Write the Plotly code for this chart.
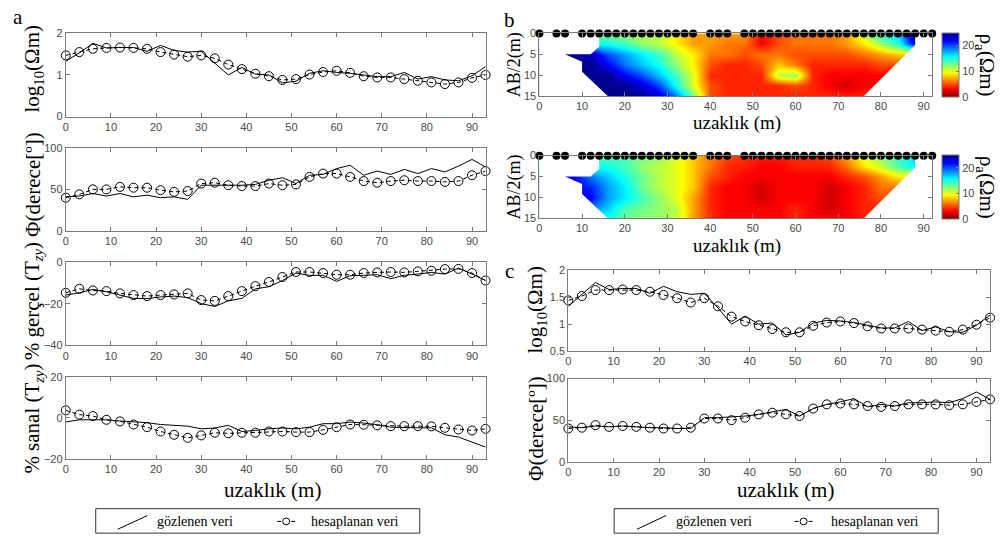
import plotly.graph_objects as go

W, H = 1001, 545

# ---------------- data ----------------
DIST = [0, 3, 6, 9, 12, 15, 18, 21, 24, 27, 30, 33, 36, 39, 42, 45,
        48, 51, 54, 57, 60, 63, 66, 69, 72, 75, 78, 81, 84, 87, 90, 93]

A_LOGRHO_OBS = [1.33, 1.53, 1.76, 1.65, 1.66, 1.66, 1.57, 1.71, 1.59, 1.55, 1.57, 1.29, 1.00, 1.18, 1.02, 1.00,
                0.81, 0.85, 1.04, 1.10, 1.06, 1.04, 1.00, 0.96, 0.96, 1.06, 0.90, 0.96, 0.88, 0.86, 0.98, 1.20]
A_LOGRHO_CALC = [1.47, 1.55, 1.63, 1.65, 1.66, 1.65, 1.63, 1.55, 1.49, 1.44, 1.47, 1.40, 1.25, 1.14, 1.03, 0.97,
                 0.88, 0.90, 1.01, 1.07, 1.10, 1.05, 0.97, 0.94, 0.94, 0.90, 0.86, 0.82, 0.78, 0.82, 0.93, 1.00]
A_PHASE_OBS = [41, 42, 45, 42, 45, 41, 43, 40, 41, 38, 55, 55, 55, 55, 56, 61,
               64, 57, 67, 68, 75, 79, 67, 72, 68, 74, 69, 75, 71, 78, 86, 77]
A_PHASE_CALC = [40, 44, 50, 50, 53, 52, 52, 49, 47, 48, 57, 58, 55, 54, 54, 57,
                55, 56, 65, 69, 69, 65, 60, 58, 60, 61, 60, 60, 59, 60, 67, 72]
A_REAL_OBS = [-15.8, -14.7, -13.1, -14.2, -15.8, -17.4, -17.5, -16.7, -16.3, -17.0, -19.9, -21.3, -18.6, -17.4, -12.8, -11.8,
              -8.8, -5.2, -6.3, -6.3, -9.2, -6.5, -6.3, -6.0, -7.9, -6.3, -5.7, -4.9, -5.7, -2.8, -5.7, -8.8]
A_REAL_CALC = [-14.7, -12.8, -13.6, -13.9, -15.0, -15.8, -16.3, -15.8, -15.5, -15.0, -18.2, -18.6, -16.3, -13.9, -11.5, -9.5,
               -7.1, -4.7, -4.7, -5.2, -6.0, -6.0, -5.2, -4.9, -4.7, -4.9, -4.4, -4.1, -3.3, -3.2, -5.2, -8.8]
A_IMAG_OBS = [-2.1, -1.0, -1.0, -1.0, -1.6, -2.1, -2.4, -3.3, -3.7, -4.1, -5.4, -5.0, -3.7, -6.7, -6.2, -5.4,
              -5.0, -5.4, -4.6, -2.9, -2.9, -2.1, -2.6, -3.4, -4.6, -4.9, -4.9, -4.9, -8.3, -9.4, -11.9, -14.3]
A_IMAG_CALC = [3.6, 1.5, 0.8, -1.0, -1.8, -3.3, -4.6, -6.7, -8.3, -9.8, -8.6, -7.3, -7.6, -7.3, -7.3, -6.7,
               -6.7, -7.0, -7.0, -5.9, -4.6, -3.3, -3.4, -3.7, -4.1, -4.1, -4.1, -4.2, -4.9, -5.7, -6.2, -5.4]

C_LOGRHO_OBS = [1.33, 1.55, 1.77, 1.64, 1.66, 1.66, 1.57, 1.70, 1.60, 1.55, 1.57, 1.30, 1.00, 1.15, 1.00, 1.02,
                0.80, 0.85, 1.02, 1.07, 1.06, 1.03, 0.98, 0.93, 0.93, 1.05, 0.88, 0.95, 0.86, 0.85, 0.98, 1.17]
C_LOGRHO_CALC = [1.44, 1.52, 1.63, 1.63, 1.64, 1.63, 1.60, 1.54, 1.48, 1.40, 1.48, 1.33, 1.14, 1.05, 0.98, 0.91,
                 0.85, 0.85, 0.97, 1.03, 1.05, 1.02, 0.96, 0.92, 0.92, 0.92, 0.90, 0.88, 0.86, 0.90, 0.99, 1.12]
C_PHASE_OBS = [42, 41, 43, 42, 43, 42, 41, 41, 40, 40, 53, 53, 54, 55, 57, 60,
               63, 55, 64, 69, 72, 76, 66, 69, 67, 71, 71, 72, 71, 76, 84, 75]
C_PHASE_CALC = [40, 41, 44, 42, 43, 42, 41, 40, 40, 41, 52, 52, 50, 53, 57, 59,
                57, 55, 64, 69, 70, 69, 67, 66, 67, 69, 69, 69, 68, 69, 72, 75]

# pseudo-section grid
GRID_X = [0, 4, 8, 12, 16, 20, 24, 28, 32, 36, 40, 44, 48, 52, 56, 60, 64, 68, 72, 76, 80, 84, 88, 92]
GRID_DEPTH = [0, 2.5, 5, 7.5, 10, 12.5, 15]
RHO_OBS = [
    [13, 13, 13, 13, 13, 12, 11, 11, 9, 7, 7, 7, 7, 3, 5, 6, 6, 6, 7, 11, 15, 17, 25, 25],
    [15, 15, 15, 15, 15, 14, 12, 11, 9, 7, 7, 6, 6, 3, 5, 6, 6, 6, 7, 9, 12, 15, 23, 23],
    [25, 25, 25, 24, 20, 18, 16, 14, 11, 9, 6, 6, 5, 6, 6, 5, 5, 5, 5, 6, 7, 8, 8, 8],
    [25, 25, 25, 25, 22, 19, 17, 15, 12, 9, 5, 4, 4, 5, 8, 6, 4, 4, 4, 4, 5, 5, 5, 5],
    [25, 25, 25, 25, 25, 22, 20, 17, 14, 10, 4, 4, 4, 4, 11, 12, 4, 3, 3, 3, 3, 3, 3, 3],
    [25, 25, 25, 25, 25, 25, 23, 20, 15, 10, 5, 4, 4, 4, 4, 5, 4, 3, 2, 3, 3, 3, 3, 3],
    [25, 25, 25, 25, 25, 25, 25, 23, 19, 13, 5, 4, 4, 4, 4, 4, 4, 4, 4, 4, 4, 4, 4, 4],
]
RHO_CALC = [
    [14, 14, 14, 14, 14, 14, 13, 12, 10, 8, 6, 5, 4, 4, 4, 4, 4, 5, 7, 10, 12, 14, 17, 17],
    [15, 15, 15, 15, 15, 14, 12, 11, 10, 8, 6, 4, 4, 3, 3, 4, 4, 4, 6, 9, 11, 14, 16, 16],
    [22, 22, 22, 19, 17, 15, 13, 11, 10, 8, 5, 4, 3, 3, 3, 3, 3, 3, 4, 5, 7, 9, 9, 9],
    [22, 22, 22, 21, 18, 16, 13, 11, 10, 8, 4, 3, 3, 2, 3, 3, 3, 2, 3, 4, 6, 6, 6, 6],
    [22, 22, 22, 22, 18, 16, 14, 12, 10, 7, 4, 3, 3, 2, 3, 3, 3, 2, 3, 4, 5, 5, 5, 5],
    [19, 19, 19, 19, 17, 14, 13, 12, 11, 7, 4, 3, 3, 3, 3, 4, 3, 2, 3, 4, 4, 4, 4, 4],
    [15, 15, 15, 15, 15, 13, 12, 12, 11, 7, 4, 3, 3, 3, 3, 4, 3, 3, 3, 4, 4, 4, 4, 4],
]
ELECTRODES = [0, 4, 6, 10, 12, 14, 16, 18, 20, 22, 24, 26, 28, 30, 32, 34, 36, 40, 42, 44,
              48, 50, 52, 54, 56, 58, 60, 62, 64, 66, 68, 70, 72, 74, 76, 78, 80, 82, 84, 86, 88, 90, 92]
# data-coverage boundary of the pseudo-section
LEFT_EDGE_X = [14, 14, 12, 6, 10, 10, 16]
LEFT_EDGE_D = [0, 3.2, 5, 5, 6.8, 9.2, 15]
RIGHT_EDGE_X = [88, 88, 76]
RIGHT_EDGE_D = [0, 2.8, 15]

X_TICKS = [0, 10, 20, 30, 40, 50, 60, 70, 80, 90]

# ---------------- helpers ----------------
def px(x):
    return x / W


def py(y):
    return 1 - y / H


SERIF = "Liberation Serif, Times New Roman, serif"
SANS = "Liberation Sans, Arial, sans-serif"
AX_COL = "#7a7a7a"
TICK_FONT = dict(family=SANS, size=11, color="#4a4a4a")

JET_R = [[0.0, "#800000"], [0.125, "#ff0000"], [0.375, "#ffff00"],
         [0.625, "#00ffff"], [0.875, "#0000ff"], [1.0, "#00008f"]]

fig = go.Figure()


def axis(domain, rng, tickvals, anchor):
    return dict(domain=domain, range=rng, tickvals=tickvals, anchor=anchor,
                showline=True, linecolor=AX_COL, linewidth=1, mirror="ticks",
                ticks="inside", ticklen=4, tickcolor=AX_COL, showgrid=False,
                zeroline=False, tickfont=TICK_FONT, fixedrange=True)


line_panels = [
    (1, [px(63), px(484)], [py(113), py(28)], [0, 2], [0, 1, 2], A_LOGRHO_OBS, A_LOGRHO_CALC),
    (2, [px(63), px(484)], [py(230), py(145)], [0, 100], [0, 50, 100], A_PHASE_OBS, A_PHASE_CALC),
    (3, [px(63), px(484)], [py(347), py(262)], [-40, 0], [-40, -20, 0], A_REAL_OBS, A_REAL_CALC),
    (4, [px(63), px(484)], [py(463), py(379)], [-20, 20], [-20, 0, 20], A_IMAG_OBS, A_IMAG_CALC),
    (7, [px(567), px(990)], [py(353), py(270)], [0.5, 2], [0.5, 1, 1.5, 2], C_LOGRHO_OBS, C_LOGRHO_CALC),
    (8, [px(567), px(990)], [py(466), py(381)], [0, 100], [0, 50, 100], C_PHASE_OBS, C_PHASE_CALC),
]

layout_axes = {}
for idx, xdom, ydom, yr, yt, obs, calc in line_panels:
    xs = "x" if idx == 1 else f"x{idx}"
    ys = "y" if idx == 1 else f"y{idx}"
    xk = "xaxis" if idx == 1 else f"xaxis{idx}"
    yk = "yaxis" if idx == 1 else f"yaxis{idx}"
    layout_axes[xk] = axis(xdom, [0, 93], X_TICKS, ys)
    layout_axes[yk] = axis(ydom, yr, yt, xs)
    fig.add_trace(go.Scatter(x=DIST, y=obs, xaxis=xs, yaxis=ys, mode="lines",
                             line=dict(color="black", width=1), showlegend=False,
                             hoverinfo="skip"))
    fig.add_trace(go.Scatter(x=DIST, y=calc, xaxis=xs, yaxis=ys, mode="lines+markers",
                             line=dict(color="black", width=1, dash="4px,3px"),
                             marker=dict(symbol="circle-open", size=9, color="black",
                                         line=dict(width=1, color="black")),
                             showlegend=False, hoverinfo="skip", cliponaxis=False))

# pseudo-sections
sections = [
    (5, [py(92), py(28)], RHO_OBS, py(60)),
    (6, [py(217), py(153)], RHO_CALC, py(185)),
]
for idx, ydom, z, cby in sections:
    xs, ys = f"x{idx}", f"y{idx}"
    layout_axes[f"xaxis{idx}"] = axis([px(538), px(932)], [0, 92], X_TICKS, ys)
    layout_axes[f"yaxis{idx}"] = axis(ydom, [15, 0], [0, 5, 10, 15], xs)
    fig.add_trace(go.Contour(
        x=GRID_X, y=GRID_DEPTH, z=z, xaxis=xs, yaxis=ys,
        colorscale=JET_R, zmin=0, zmax=25, zauto=False,
        contours=dict(start=0, end=25, size=1, coloring="heatmap", showlines=False),
        line=dict(width=0, smoothing=1.0),
        hoverinfo="skip",
        colorbar=dict(x=px(942), xanchor="left", thickness=17, thicknessmode="pixels",
                      len=64, lenmode="pixels", y=cby, yanchor="middle",
                      outlinecolor=AX_COL, outlinewidth=1, tickvals=[0, 10, 20],
                      ticks="inside", ticklen=3, tickcolor=AX_COL,
                      tickfont=TICK_FONT, xpad=0, ypad=0),
    ))
    # white masks outside data coverage
    fig.add_trace(go.Scatter(
        x=[-2] + LEFT_EDGE_X + [LEFT_EDGE_X[-1], -2],
        y=[-1] + LEFT_EDGE_D + [16, 16], xaxis=xs, yaxis=ys,
        fill="toself", fillcolor="white", mode="lines", line=dict(width=0, color="white"),
        showlegend=False, hoverinfo="skip"))
    fig.add_trace(go.Scatter(
        x=[94] + RIGHT_EDGE_X + [RIGHT_EDGE_X[-1], 94],
        y=[-1] + RIGHT_EDGE_D + [16, 16], xaxis=xs, yaxis=ys,
        fill="toself", fillcolor="white", mode="lines", line=dict(width=0, color="white"),
        showlegend=False, hoverinfo="skip"))
    fig.add_trace(go.Scatter(
        x=ELECTRODES, y=[0] * len(ELECTRODES), xaxis=xs, yaxis=ys,
        mode="markers", marker=dict(symbol="circle", size=8, color="black"),
        cliponaxis=False, showlegend=False, hoverinfo="skip"))

# ---------------- annotations ----------------
ann = []


def text(x, y, t, size=21, angle=0, xanchor="center", family=SERIF):
    ann.append(dict(x=px(x), y=py(y), xref="paper", yref="paper", text=t,
                    showarrow=False, textangle=angle, xanchor=xanchor, yanchor="middle",
                    font=dict(family=family, size=size, color="black")))


text(15, 11, "a", 21)
text(508, 14, "b", 21)
text(508, 271, "c", 21)

text(30, 64, "log<sub>10</sub>(Ωm)", 21, -90)
text(30, 182, "Φ(derece[º])", 21, -90)
text(30, 302, "% gerçel (T<sub><i>zy</i></sub>)", 21, -90)
text(30, 422, "% sanal (T<sub><i>zy</i></sub>)", 21, -90)
text(270, 495, "uzaklık (m)", 21)

text(513, 60, "AB/2(m)", 18, -90)
text(513, 185, "AB/2(m)", 18, -90)
text(736, 120, "uzaklık (m)", 19)
text(736, 245, "uzaklık (m)", 19)
text(986, 60, "ρ<sub>a</sub>(Ωm)", 21, 90)
text(986, 185, "ρ<sub>a</sub>(Ωm)", 21, 90)

text(535, 311, "log<sub>10</sub>(Ωm)", 21, -90)
text(535, 432, "Φ(derece[º])", 21, -90)
text(785, 495, "uzaklık (m)", 21)

# ---------------- legends ----------------
shapes = []
for bx0, bx1, lx0, lx1, t1x, mcx, t2x in [(93, 418, 115, 145, 152, 284, 307),
                                          (613, 938, 636, 665, 673, 803, 828)]:
    shapes.append(dict(type="rect", xref="paper", yref="paper",
                       x0=px(bx0), x1=px(bx1), y0=py(539), y1=py(514),
                       line=dict(color="#333333", width=1), fillcolor="white"))
    shapes.append(dict(type="line", xref="paper", yref="paper",
                       x0=px(lx0), x1=px(lx1), y0=py(535), y1=py(521),
                       line=dict(color="black", width=1)))
    shapes.append(dict(type="circle", xref="paper", yref="paper",
                       x0=px(mcx - 3.5), x1=px(mcx + 3.5), y0=py(530.5), y1=py(523.5),
                       line=dict(color="black", width=1)))
    shapes.append(dict(type="line", xref="paper", yref="paper",
                       x0=px(mcx - 9), x1=px(mcx - 5), y0=py(527), y1=py(527),
                       line=dict(color="black", width=1)))
    shapes.append(dict(type="line", xref="paper", yref="paper",
                       x0=px(mcx + 5), x1=px(mcx + 9), y0=py(527), y1=py(527),
                       line=dict(color="black", width=1)))
    text(t1x, 527, "gözlenen veri", 14, 0, "left")
    text(t2x, 527, "hesaplanan veri", 14, 0, "left")

fig.update_layout(
    width=W, height=H, margin=dict(l=0, r=0, t=0, b=0),
    paper_bgcolor="white", plot_bgcolor="white",
    showlegend=False, annotations=ann, shapes=shapes,
    **layout_axes,
)

fig.write_html("out.html")
